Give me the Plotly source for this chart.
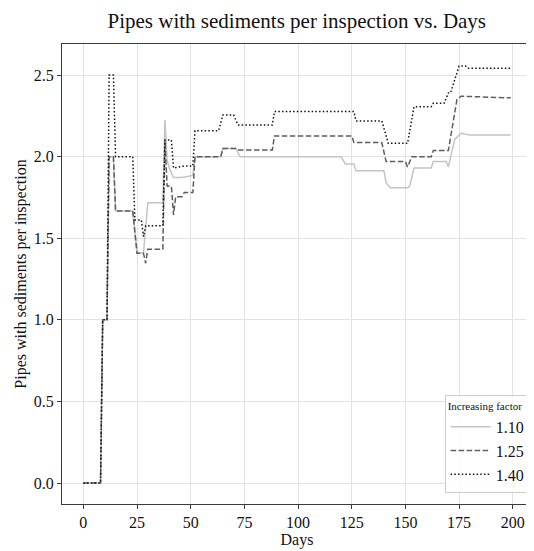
import plotly.graph_objects as go

# Series: day vertices and values
days_110 = [0, 8, 9, 11, 12, 14, 15, 23, 25, 28, 30, 37, 38, 39, 40, 42, 46, 51, 52, 64, 65, 71, 73,
            120, 122, 126, 127, 140, 141, 143, 151, 152, 154, 162, 163, 169, 170, 173, 176, 180, 199]
vals_110 = [0, 0, 1.0, 1.0, 2.0, 2.0, 1.667, 1.667, 1.409, 1.409, 1.718, 1.718, 2.225, 1.98, 1.93, 1.872, 1.872, 1.885, 2.0, 2.0, 2.05, 2.05, 2.0,
            2.0, 1.955, 1.955, 1.913, 1.913, 1.84, 1.81, 1.81, 1.82, 1.93, 1.93, 1.97, 1.97, 1.937, 2.107, 2.143, 2.133, 2.133]

days_125 = [0, 8, 9, 11, 12, 14, 15, 23, 25, 28, 29, 30, 37, 38, 39, 41, 42, 43, 46, 47, 51, 52, 64, 65, 71, 72,
            88, 89, 125, 126, 139, 141, 150, 151, 153, 162, 163, 170, 174, 176, 199]
vals_125 = [0, 0, 1.0, 1.0, 2.0, 2.0, 1.667, 1.667, 1.408, 1.408, 1.347, 1.433, 1.433, 2.1, 1.82, 1.82, 1.643, 1.755, 1.755, 1.78, 1.78, 2.0, 2.0, 2.05, 2.05, 2.04,
            2.04, 2.127, 2.127, 2.086, 2.086, 1.97, 1.97, 1.937, 2.0, 2.0, 2.037, 2.037, 2.35, 2.37, 2.36]

days_140 = [0, 8, 9, 11, 12, 14, 15, 23, 24, 27, 28, 29, 37, 38, 41, 42, 47, 51, 52, 63, 65, 70, 72,
            88, 89, 126, 127, 139, 142, 151, 154, 162, 163, 168, 170, 171, 175, 178, 179, 199]
vals_140 = [0, 0, 1.0, 1.0, 2.5, 2.5, 2.0, 2.0, 1.612, 1.612, 1.51, 1.576, 1.576, 2.102, 2.102, 1.93, 1.943, 1.943, 2.159, 2.159, 2.255, 2.255, 2.194,
            2.194, 2.276, 2.276, 2.219, 2.219, 2.082, 2.082, 2.306, 2.306, 2.327, 2.327, 2.39, 2.39, 2.555, 2.555, 2.541, 2.541]

labels = ["1.10", "1.25", "1.40"]
x_ticks = [0, 25, 50, 75, 100, 125, 150, 175, 200]
y_ticks = [0.0, 0.5, 1.0, 1.5, 2.0, 2.5]

FONT = "Liberation Serif"

fig = go.Figure()
fig.add_trace(go.Scatter(x=days_110, y=vals_110, mode="lines", name=labels[0],
                         line=dict(color="#c4c4c4", width=1.5)))
fig.add_trace(go.Scatter(x=days_125, y=vals_125, mode="lines", name=labels[1],
                         line=dict(color="#5e5e5e", width=1.5, dash="5.5px,2.5px")))
fig.add_trace(go.Scatter(x=days_140, y=vals_140, mode="lines", name=labels[2],
                         line=dict(color="#111111", width=1.5, dash="1.5px,2.2px")))

axis_common = dict(showline=True, mirror=True, linecolor="#3a3a3a", linewidth=1,
                   showgrid=True, gridcolor="#e2e2e2", gridwidth=1, zeroline=False,
                   ticks="outside", ticklen=4, tickcolor="#3a3a3a",
                   tickfont=dict(family=FONT, size=16, color="#111"))

# page has an 8px body margin, so the figure is 8px smaller and shifted
fig.update_layout(
    width=526, height=543,
    margin=dict(l=54, r=2, t=36, b=47),
    paper_bgcolor="white", plot_bgcolor="white",
    font=dict(family=FONT, color="#111"),
    title=dict(text="Pipes with sediments per inspection vs. Days", x=0.549, xanchor="center",
               y=0.976, yanchor="middle", font=dict(family=FONT, size=21, color="#111")),
    xaxis=dict(range=[-9.95, 208.95], tickvals=x_ticks, ticktext=[str(v) for v in x_ticks],
               title=dict(text="Days", font=dict(family=FONT, size=16, color="#111"), standoff=1),
               **axis_common),
    yaxis=dict(range=[-0.128, 2.69], tickvals=y_ticks, ticktext=[f"{v:.1f}" for v in y_ticks],
               title=dict(text="Pipes with sediments per inspection", font=dict(family=FONT, size=16, color="#111"), standoff=3),
               **axis_common),
    legend=dict(x=0.995, y=0.025, xanchor="right", yanchor="bottom",
                bordercolor="#cccccc", borderwidth=1, bgcolor="rgba(255,255,255,0.85)",
                title=dict(text="Increasing factor", font=dict(family=FONT, size=11, color="#111"), side="top"),
                font=dict(family=FONT, size=16, color="#111"), itemwidth=40, tracegroupgap=2),
    showlegend=True,
)

fig.write_html("out.html")
